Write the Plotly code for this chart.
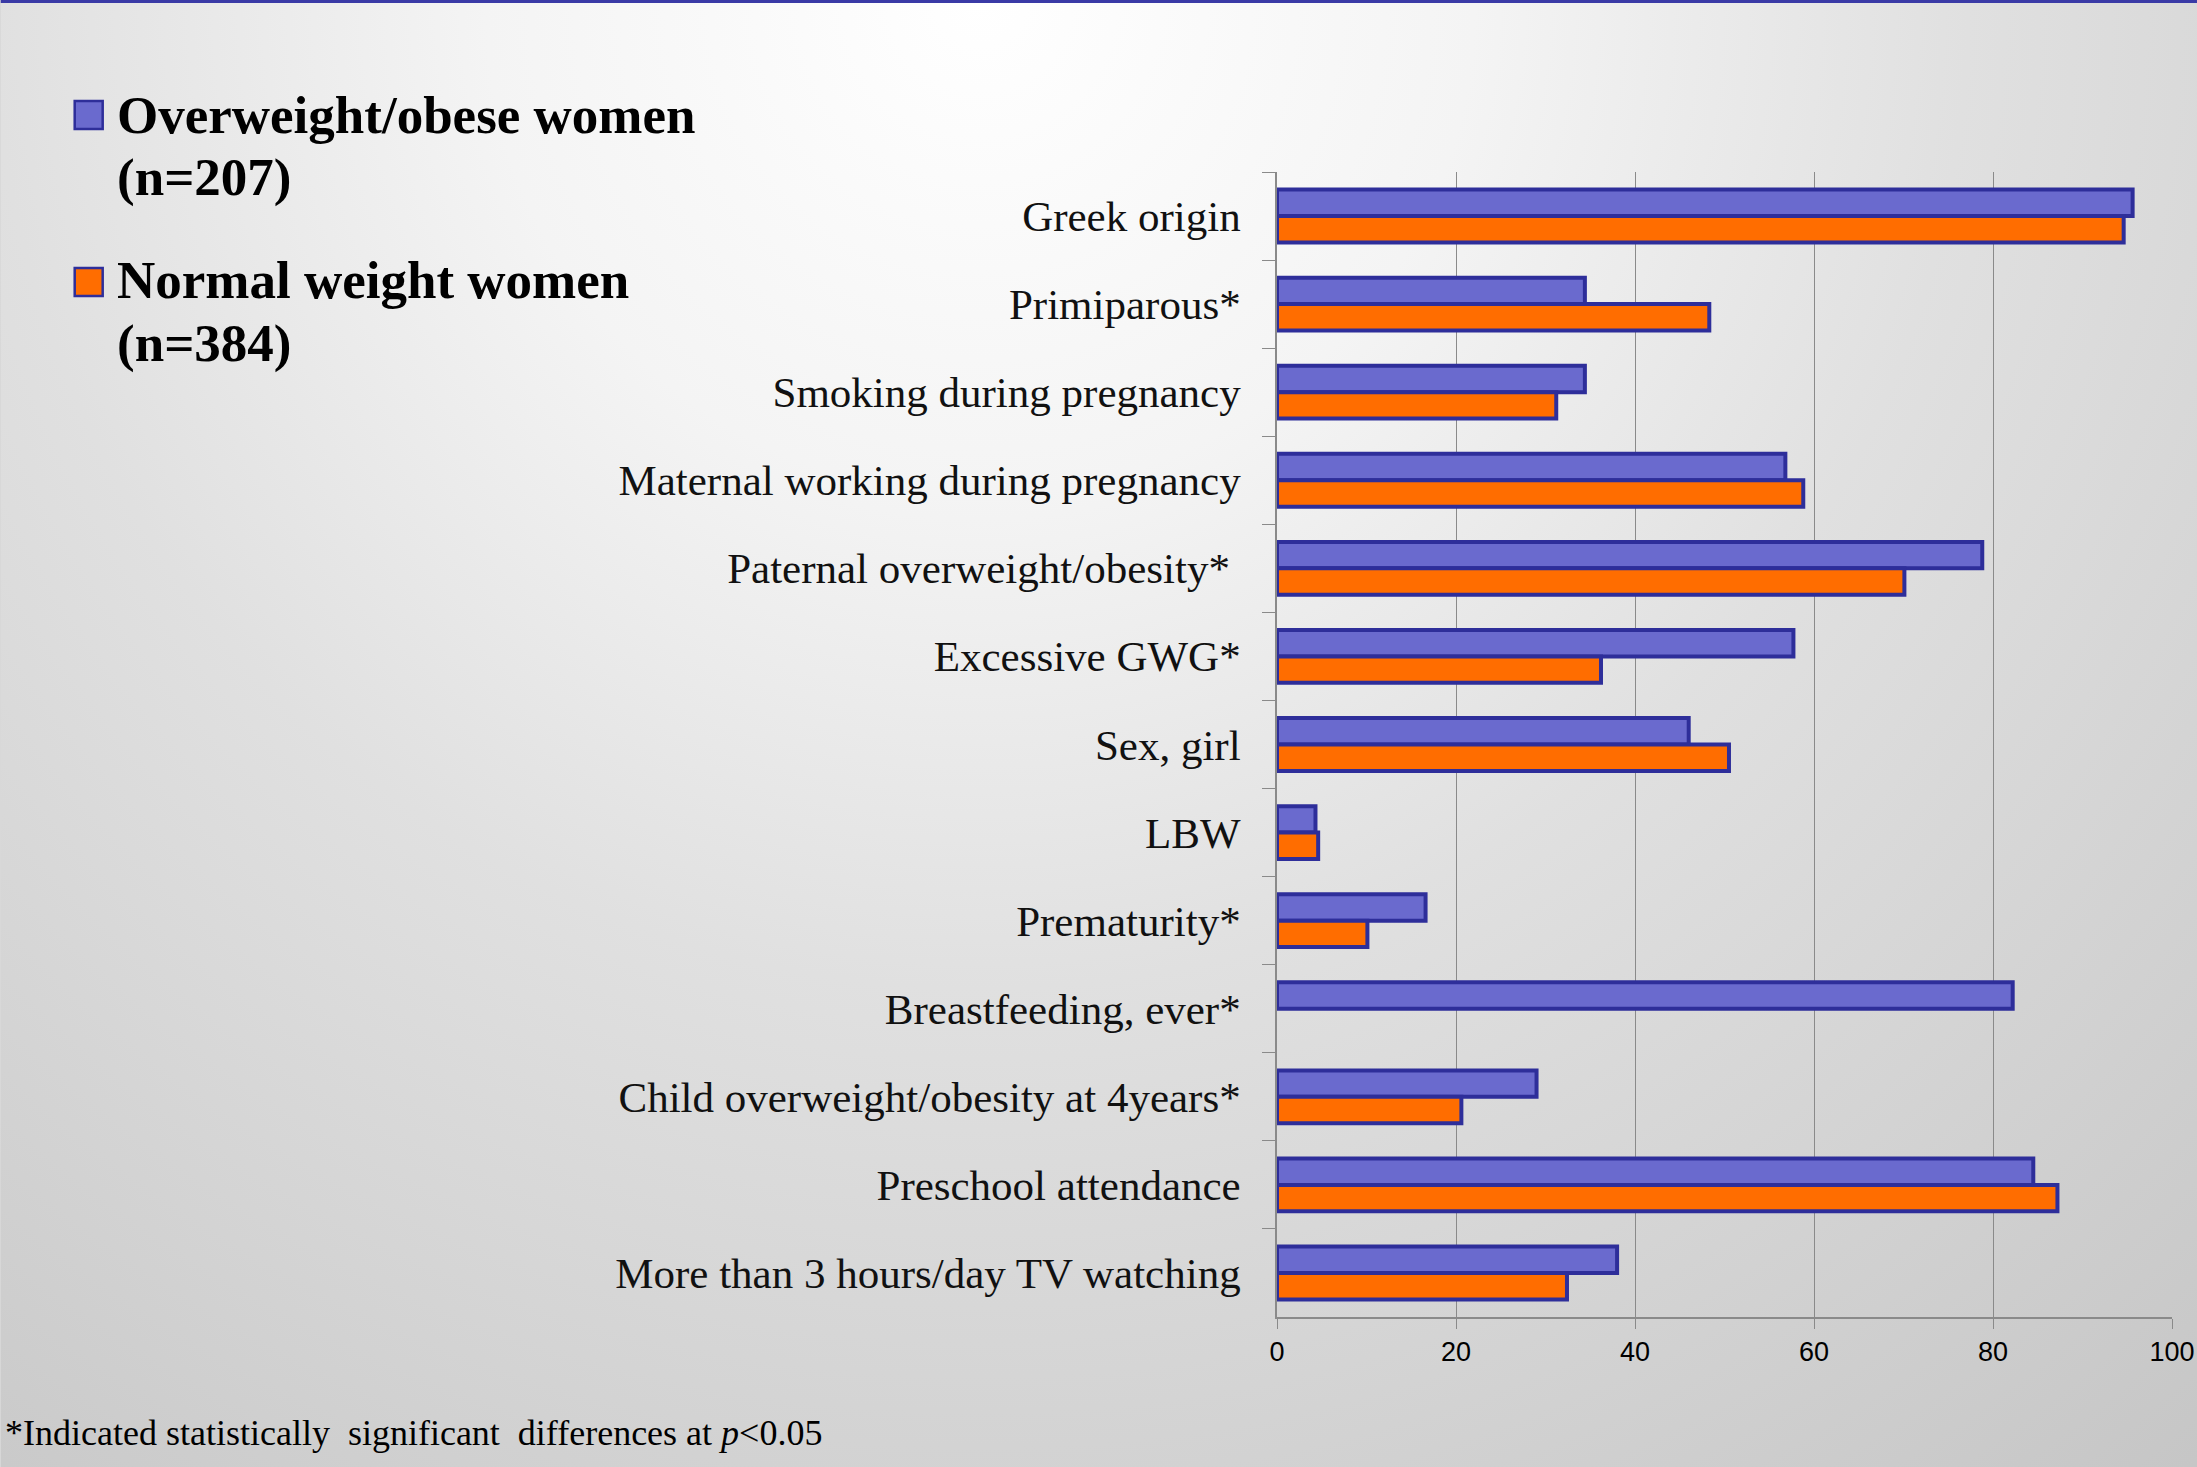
import base64
import plotly.graph_objects as go

categories = [
    "Greek origin",
    "Primiparous*",
    "Smoking during pregnancy",
    "Maternal working during pregnancy",
    "Paternal overweight/obesity*\u00a0",
    "Excessive GWG*",
    "Sex, girl",
    "LBW",
    "Prematurity*",
    "Breastfeeding, ever*",
    "Child overweight/obesity at 4years*",
    "Preschool attendance",
    "More than 3 hours/day TV watching",
]
overweight_obese = [95.6, 34.4, 34.4, 56.8, 78.8, 57.7, 46.0, 4.3, 16.6, 82.2, 29.0, 84.5, 38.0]
normal_weight = [94.6, 48.3, 31.2, 58.8, 70.1, 36.2, 50.5, 4.6, 10.1, None, 20.6, 87.2, 32.4]
x_ticks = [0, 20, 40, 60, 80, 100]
legend_names = [("Overweight/obese women", "(n=207)"), ("Normal weight women", "(n=384)")]
footnote = "*Indicated statistically \u00a0significant \u00a0differences at <i>p</i>&lt;0.05"

W, H = 2197, 1467
L, R = 1276.7, 2172.0
T, B = 172.0, 1317.0
PW, PH = R - L, B - T


def px(x):
    return (x - L) / PW


def py(y):
    return (B - y) / PH


BLUE = "#6A6ACE"
ORANGE = "#FF6D00"
EDGE = "#2E2E9A"

fig = go.Figure()
fig.add_trace(go.Bar(y=categories, x=overweight_obese, orientation="h", name=legend_names[0][0],
                     marker=dict(color=BLUE, line=dict(color=EDGE, width=4)), showlegend=False))
fig.add_trace(go.Bar(y=categories, x=normal_weight, orientation="h", name=legend_names[1][0],
                     marker=dict(color=ORANGE, line=dict(color=EDGE, width=4)), showlegend=False))

# background gradient as inline SVG
svg = f'''<svg xmlns="http://www.w3.org/2000/svg" width="{W}" height="{H}" viewBox="0 0 {W} {H}">
<defs><radialGradient id="g" gradientUnits="userSpaceOnUse" cx="980" cy="0" r="1900">
<stop offset="0" stop-color="#ffffff"/><stop offset="0.26" stop-color="#f4f4f4"/>
<stop offset="0.52" stop-color="#e0e0e0"/><stop offset="0.78" stop-color="#d2d2d2"/>
<stop offset="1" stop-color="#c6c6c6"/></radialGradient></defs>
<rect width="{W}" height="{H}" fill="url(#g)"/></svg>'''
src = "data:image/svg+xml;base64," + base64.b64encode(svg.encode()).decode()

annotations = []
shapes = []
serif = "Liberation Serif"
line_centers = [(115, 178), (280, 343)]
sq_tops = [101, 268]
colors = [BLUE, ORANGE]
for (l1, l2), (c1, c2), top, col in zip(legend_names, line_centers, sq_tops, colors):
    shapes.append(dict(type="rect", xref="paper", yref="paper", x0=px(74), x1=px(102), y0=py(top), y1=py(top + 28),
                       fillcolor=col, line=dict(color=EDGE, width=2.5), layer="above"))
    for txt, cy in ((l1, c1), (l2, c2)):
        annotations.append(dict(text=f"<b>{txt}</b>", xref="paper", yref="paper", x=px(114), y=py(cy),
                                xanchor="left", yanchor="middle", showarrow=False,
                                font=dict(family=serif, size=53, color="#000000")))

annotations.append(dict(text=footnote, xref="paper", yref="paper", x=px(2), y=py(1433),
                        xanchor="left", yanchor="middle", showarrow=False,
                        font=dict(family=serif, size=36, color="#000000")))

shapes.append(dict(type="line", xref="paper", yref="paper", x0=px(0), x1=px(W), y0=py(1.5), y1=py(1.5),
                   line=dict(color="#3A3AA6", width=3)))

fig.update_layout(
    width=W, height=H, autosize=False,
    margin=dict(l=L, r=W - R, t=T, b=H - B, pad=0, autoexpand=False),
    paper_bgcolor="#d8d8d8",
    plot_bgcolor="rgba(0,0,0,0)",
    barmode="group",
    bargap=0.4,
    bargroupgap=0,
    images=[dict(source=src, xref="paper", yref="paper", x=px(0), y=py(0), sizex=W / PW, sizey=H / PH,
                 xanchor="left", yanchor="top", sizing="stretch", layer="below")],
    shapes=shapes,
    annotations=annotations,
    xaxis=dict(range=[0, 100], tickvals=x_ticks, ticktext=[str(v) for v in x_ticks],
               automargin=False,
               showgrid=True, gridcolor="#8a8a8a", gridwidth=1, zeroline=False,
               showline=True, linecolor="#8a8a8a", linewidth=1.5,
               ticks="outside", ticklen=10, tickcolor="#8a8a8a", ticklabeloverflow="allow",
               tickfont=dict(family="Liberation Sans", size=27, color="#000000")),
    yaxis=dict(categoryorder="array", categoryarray=categories, autorange="reversed",
               automargin=False,
               showgrid=False, zeroline=False, showline=True, linecolor="#8a8a8a", linewidth=1.5,
               ticks="outside", ticklen=13, tickcolor="#8a8a8a", tickson="boundaries",
               ticklabelstandoff=26,
               tickfont=dict(family=serif, size=43, color="#111111")),
)

fig.write_html("out.html",
               config={"responsive": False, "displayModeBar": False},
               post_script="document.body.style.margin='0';")
